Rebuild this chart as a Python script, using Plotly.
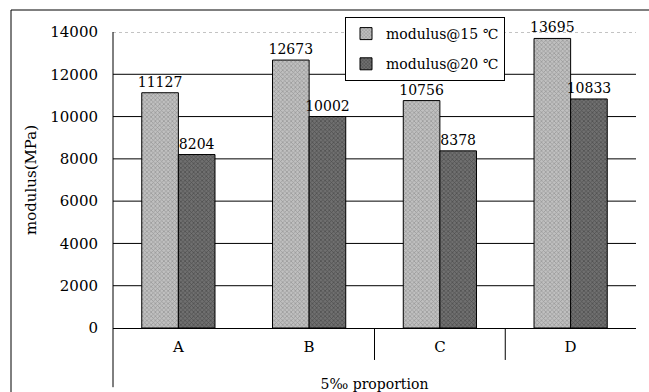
import plotly.graph_objects as go

categories = ["A", "B", "C", "D"]
mod15 = [11127, 12673, 10756, 13695]
mod20 = [8204, 10002, 8378, 10833]
series_names = ["modulus@15 ℃", "modulus@20 ℃"]
y_ticks = [0, 2000, 4000, 6000, 8000, 10000, 12000, 14000]
x_title = "5‰ proportion"
y_title = "modulus(MPa)"

FONT = "DejaVu Serif"

fig = go.Figure()
fig.add_trace(go.Bar(
    x=categories, y=mod15, name=series_names[0], legendgroup="g1",
    marker=dict(color="#c0c0c0", line=dict(color="black", width=1),
                pattern=dict(shape="x", fgcolor="#6c6c6c", bgcolor="#c0c0c0", size=3, solidity=0.4)),
    text=[str(v) for v in mod15], textposition="outside", constraintext="none",
    textfont=dict(family=FONT, size=14, color="black"), cliponaxis=False,
))
fig.add_trace(go.Bar(
    x=categories, y=mod20, name=series_names[1], legendgroup="g2",
    marker=dict(color="#707070", line=dict(color="black", width=1),
                pattern=dict(shape="x", fgcolor="#282828", bgcolor="#707070", size=3, solidity=0.4)),
    text=[str(v) for v in mod20], textposition="outside", constraintext="none",
    textfont=dict(family=FONT, size=14, color="black"), cliponaxis=False,
))

shapes = []
for t in y_ticks[1:]:
    shapes.append(dict(type="line", xref="paper", yref="y", x0=0, x1=1, y0=t, y1=t,
                       layer="below",
                       line=dict(color="#888888" if t == y_ticks[-1] else "black", width=1,
                                 dash="dot" if t == y_ticks[-1] else "solid")))
# extended left axis line
shapes.append(dict(type="line", xref="paper", yref="paper", x0=0, x1=0, y0=-0.2, y1=1,
                   line=dict(color="black", width=1)))
# category separators (between B-C and C-D)
for xs in [1.5, 2.5]:
    shapes.append(dict(type="line", xref="x", yref="paper", x0=xs, x1=xs, y0=0, y1=-0.108,
                       line=dict(color="black", width=1)))
# outer frame (top and left edges visible)
fx0 = -102 / 523
fy1 = 1 + 22 / 296
shapes.append(dict(type="line", xref="paper", yref="paper", x0=fx0, x1=1.03, y0=fy1, y1=fy1,
                   line=dict(color="black", width=1)))
shapes.append(dict(type="line", xref="paper", yref="paper", x0=fx0, x1=fx0, y0=-0.3, y1=fy1,
                   line=dict(color="black", width=1)))

fig.update_layout(
    width=649, height=392,
    margin=dict(l=113, r=13, t=32, b=64, autoexpand=False),
    paper_bgcolor="white", plot_bgcolor="white",
    font=dict(family=FONT, size=14, color="black"),
    barmode="group", bargap=0.44, bargroupgap=0,
    shapes=shapes,
    showlegend=True,
    legend=dict(x=(345 - 113) / 523, y=1 + 15 / 296, xanchor="left", yanchor="top",
                bgcolor="white", bordercolor="black", borderwidth=1,
                font=dict(family=FONT, size=14), itemwidth=30, tracegroupgap=9),
    xaxis=dict(showline=True, linecolor="black", linewidth=1, ticks="", automargin=False,
               ticklabelstandoff=5,
               tickfont=dict(family=FONT, size=15),
               title=dict(text=x_title, font=dict(family=FONT, size=14), standoff=24)),
    yaxis=dict(range=[0, 14000], tickvals=y_ticks, ticktext=[str(t) for t in y_ticks],
               showgrid=False, zeroline=False, automargin=False,
               showline=False, ticks="", ticklabelstandoff=14,
               tickfont=dict(family=FONT, size=15),
               title=dict(text=y_title, font=dict(family=FONT, size=15), standoff=10)),
)

fig.write_html("out.html", config={"displayModeBar": False},
               post_script="document.documentElement.style.overflow='hidden';"
                           "document.body.style.margin='0';document.body.style.overflow='hidden';")
